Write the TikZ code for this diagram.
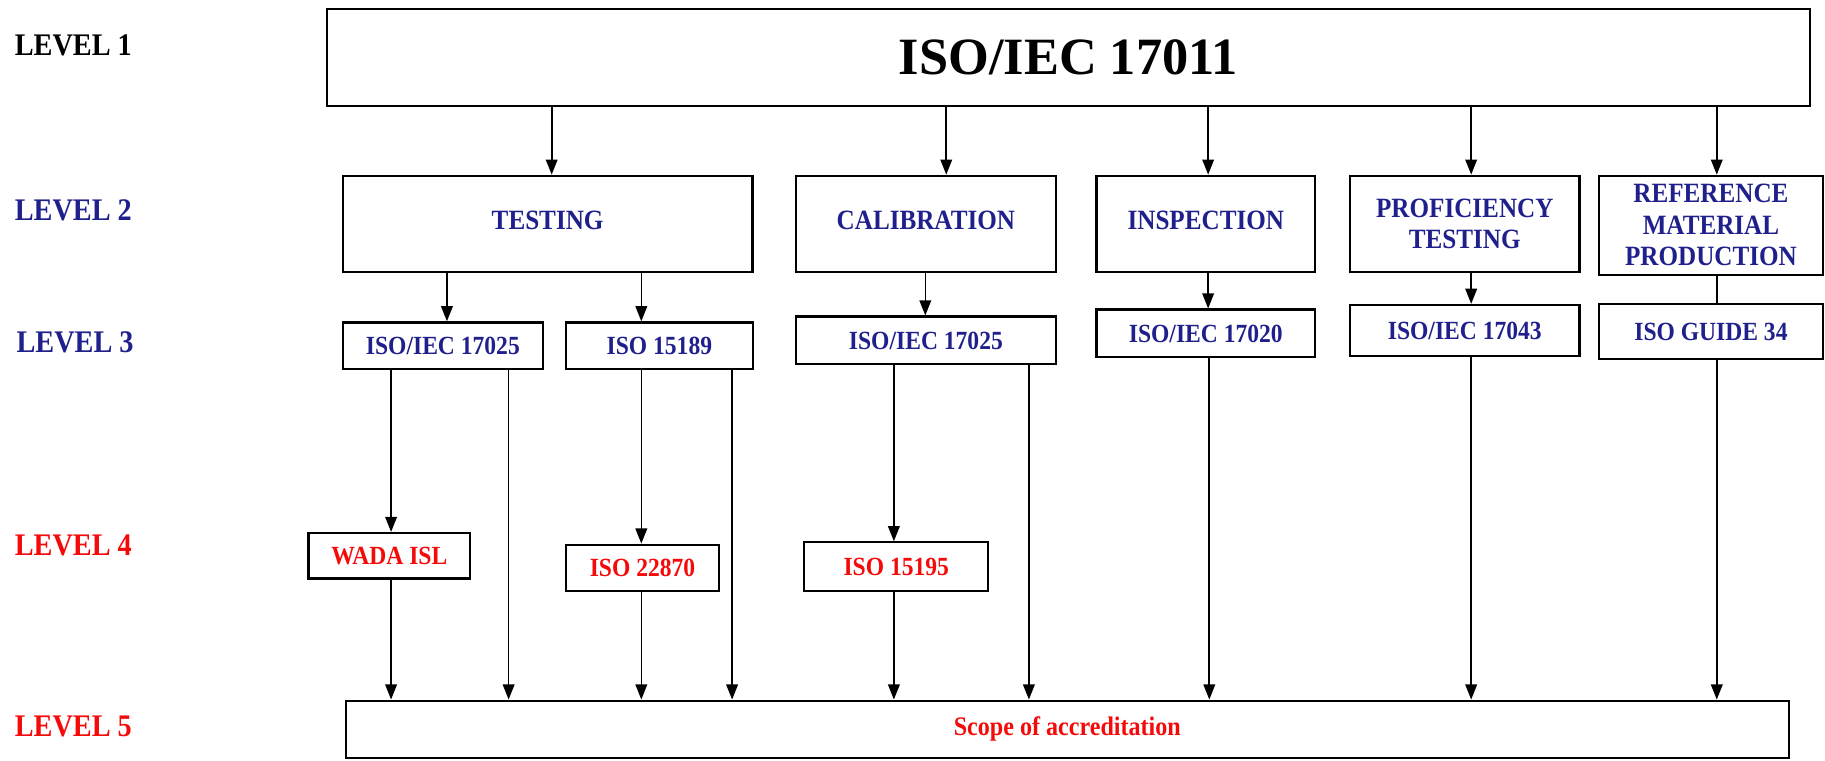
\documentclass[tikz,border=0pt]{standalone}
\usepackage{fontspec}
\setmainfont{Liberation Serif}
\newfontfamily\condserif[FakeStretch=0.9]{Liberation Serif}
\usetikzlibrary{arrows.meta}
\definecolor{navyT}{RGB}{32,32,140}
\definecolor{redT}{RGB}{245,10,10}
\newcommand{\liftup}[1]{\raisebox{3.5pt}[\height][\depth]{#1}}
\begin{document}
\begin{tikzpicture}[x=1pt,y=-1pt,
  box/.style={draw=black,line width=1.9pt,inner sep=0pt,align=center,font=\bfseries},
  lvl/.style={anchor=base west,inner sep=0pt,font=\condserif\fontsize{27}{30}\selectfont\bfseries},
  f2/.style={font=\condserif\fontsize{24}{27}\selectfont\bfseries},
  f3/.style={font=\condserif\fontsize{22.5}{25}\selectfont\bfseries},
  arr/.style={line width=1.4pt,-{Triangle[length=13pt,width=10pt]}},
  ln/.style={line width=1.4pt}]
\useasboundingbox (0,0) rectangle (1568,653);
% level labels
\node[lvl,text=black] (l1) at (12.5,47.5) {LEVEL 1};
\node[lvl,text=navyT] (l2) at (12.5,189.5) {LEVEL 2};
\node[lvl,text=navyT] (l3) at (14,303) {LEVEL 3};
\node[lvl,text=redT] (l4) at (12.5,477.5) {LEVEL 4};
\node[lvl,text=redT] (l5) at (12.5,633) {LEVEL 5};
% level 1
\node[box,minimum width=1274pt,minimum height=83pt,font=\fontsize{45}{50}\selectfont\bfseries] (top) at (918,49.5) {ISO/IEC 17011};
% level 2
\node[box,f2,text=navyT,minimum width=352pt,minimum height=83pt] (test) at (470.5,192.5) {\liftup{TESTING}};
\node[box,f2,text=navyT,minimum width=223pt,minimum height=83pt] (cal) at (795.5,192.5) {\liftup{CALIBRATION}};
\node[box,f2,text=navyT,minimum width=188pt,minimum height=83pt] (insp) at (1036,192.5) {\liftup{INSPECTION}};
\node[box,f2,text=navyT,minimum width=197pt,minimum height=83pt] (prof) at (1258.5,192.5) {PROFICIENCY\\TESTING};
\node[box,f2,text=navyT,minimum width=192pt,minimum height=85pt] (ref) at (1470,193.5) {REFERENCE\\MATERIAL\\PRODUCTION};
% level 3
\node[box,f3,text=navyT,minimum width=172pt,minimum height=40pt] (a25) at (380.5,297) {ISO/IEC 17025};
\node[box,f3,text=navyT,minimum width=161pt,minimum height=40pt] (a189) at (566.5,297) {ISO 15189};
\node[box,f3,text=navyT,minimum width=223pt,minimum height=41pt] (b25) at (795.5,292.5) {ISO/IEC 17025};
\node[box,f3,text=navyT,minimum width=188pt,minimum height=41pt] (c20) at (1036,286.5) {ISO/IEC 17020};
\node[box,f3,text=navyT,minimum width=197pt,minimum height=44pt] (d43) at (1258.5,284) {ISO/IEC 17043};
\node[box,f3,text=navyT,minimum width=192pt,minimum height=47pt] (g34) at (1470,285) {ISO GUIDE 34};
% level 4
\node[box,f3,text=redT,minimum width=139pt,minimum height=39pt] (wada) at (334.5,477.5) {WADA ISL};
\node[box,f3,text=redT,minimum width=132pt,minimum height=40pt] (e870) at (552,488) {ISO 22870};
\node[box,f3,text=redT,minimum width=158pt,minimum height=42pt] (e195) at (770,487) {ISO 15195};
% level 5
\node[box,text=redT,minimum width=1240pt,minimum height=49pt,font=\condserif\fontsize{23}{26}\selectfont\bfseries] (scope) at (917,626.5) {Scope of accreditation};
% column coordinates
\coordinate (t1) at (474,0);
\coordinate (t2) at (813,0);
\coordinate (t3) at (1038,0);
\coordinate (t4) at (1264,0);
\coordinate (t5) at (1475,0);
\coordinate (s1) at (384,0);
\coordinate (s2) at (551,0);
\coordinate (s3) at (795,0);
\coordinate (b1) at (336,0);
\coordinate (b2) at (437,0);
\coordinate (b4) at (629,0);
\coordinate (b5) at (768,0);
\coordinate (b6) at (884,0);
\coordinate (b7) at (1039,0);
% level 1 -> level 2
\draw[arr] (top.south -| t1) -- (test.north -| t1);
\draw[arr] (top.south -| t2) -- (cal.north -| t2);
\draw[arr] (top.south -| t3) -- (insp.north -| t3);
\draw[arr] (top.south -| t4) -- (prof.north -| t4);
\draw[arr] (top.south -| t5) -- (ref.north -| t5);
% level 2 -> level 3
\draw[arr] (test.south -| s1) -- (a25.north -| s1);
\draw[arr] (test.south -| s2) -- (a189.north -| s2);
\draw[arr] (cal.south -| s3) -- (b25.north -| s3);
\draw[arr] (insp.south -| t3) -- (c20.north -| t3);
\draw[arr] (prof.south -| t4) -- (d43.north -| t4);
\draw[ln] (ref.south -| t5) -- (g34.north -| t5);
% level 3 -> level 4
\draw[arr] (a25.south -| b1) -- (wada.north -| b1);
\draw[arr] (a189.south -| s2) -- (e870.north -| s2);
\draw[arr] (b25.south -| b5) -- (e195.north -| b5);
% to level 5
\draw[arr] (wada.south -| b1) -- (scope.north -| b1);
\draw[arr] (a25.south -| b2) -- (scope.north -| b2);
\draw[arr] (e870.south -| s2) -- (scope.north -| s2);
\draw[arr] (a189.south -| b4) -- (scope.north -| b4);
\draw[arr] (e195.south -| b5) -- (scope.north -| b5);
\draw[arr] (b25.south -| b6) -- (scope.north -| b6);
\draw[arr] (c20.south -| b7) -- (scope.north -| b7);
\draw[arr] (d43.south -| t4) -- (scope.north -| t4);
\draw[arr] (g34.south -| t5) -- (scope.north -| t5);
\end{tikzpicture}
\end{document}
